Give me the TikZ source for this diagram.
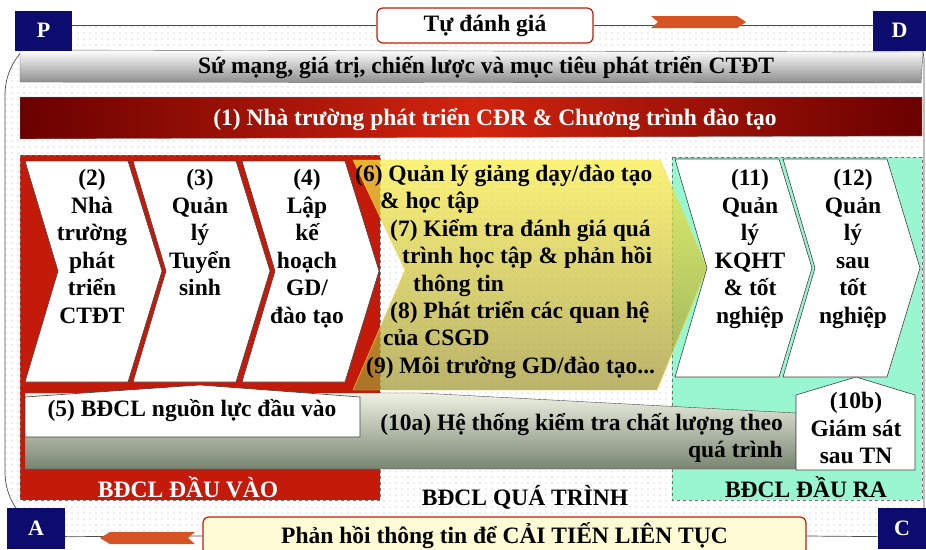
\documentclass[tikz,border=0pt]{standalone}
\usepackage{fontspec}
\setmainfont{Liberation Serif}
\usetikzlibrary{patterns.meta}

\definecolor{navyP}{RGB}{12,12,110}
\definecolor{areaRed}{RGB}{196,26,10}
\definecolor{darkRed}{RGB}{105,0,0}
\definecolor{bannerRed}{RGB}{210,36,14}
\definecolor{mint}{RGB}{152,246,208}
\definecolor{arrOrange}{RGB}{214,84,36}
\definecolor{paleYellow}{RGB}{255,251,212}
\definecolor{barDark}{RGB}{120,132,112}
\definecolor{barLight}{RGB}{238,242,228}
\definecolor{yelTop}{RGB}{250,238,70}
\definecolor{yelBot}{RGB}{160,150,50}

\begin{document}
\begin{tikzpicture}[x=1pt,y=-1pt,
	cornerbox/.style={fill=navyP, text=white, font=\fontsize{22}{24}\selectfont\bfseries, inner sep=0pt},
	txt/.style={font=\fontsize{23.5}{27.5}\selectfont\bfseries, align=center, inner sep=0pt},
	frame/.style={draw=black!70, line width=0.7pt},
	chevbox/.style={fill=white, draw=black!75, line width=0.6pt},
	areabox/.style={dashed, draw=black!55, line width=0.6pt}]
	\useasboundingbox (0,0) rectangle (926,549);
	% dotted ground inside the PDCA frame
	\fill[pattern={Dots[distance=6pt,radius=0.6pt]}, pattern color=black!30, rounded corners=65pt] (5,25) rectangle (924,537);
	\coordinate (frameNW) at (5,30);
	\coordinate (frameSW) at (5,537);
	\coordinate (frameNE) at (924,30);
	\coordinate (frameSE) at (924,537);

	% corner boxes and top/bottom boxes
	\node[cornerbox, minimum width=57pt, minimum height=40pt] (P) at (43.5,30.5) {P};
	\node[cornerbox, minimum width=53pt, minimum height=40pt] (D) at (899.5,30.5) {D};
	\node[cornerbox, minimum width=58pt, minimum height=41pt] (A) at (36,528.5) {A};
	\node[cornerbox, minimum width=48pt, minimum height=41pt] (C) at (902,528.5) {C};
	\node[txt, draw=areaRed, fill=white, line width=1.2pt, rounded corners=6pt, minimum width=216pt, minimum height=35pt] (tudg) at (485,25.5) {Tự đánh giá};
	\node[txt, draw=areaRed, fill=paleYellow, line width=1.2pt, rounded corners=6pt, minimum width=603pt, minimum height=38pt] (phh) at (504.5,536) {Phản hồi thông tin để CẢI TIẾN LIÊN TỤC};

	% frame lines
	\draw[frame] (tudg.west) -- (tudg.west -| P.east);
	\draw[frame] (tudg.east) -- (tudg.east -| D.west);
	\draw[frame, rounded corners=65pt] (P.center) -- (frameNW) -- (frameSW) -- (phh.west);
	\draw[frame, rounded corners=30pt] (D.center) -- (frameNE) -- (frameSE) -- (phh.east);

	% areas
	\draw[areabox, fill=areaRed] (20,155) rectangle (380,500);
	\draw[areabox, fill=mint] (672,157) rectangle (922,500);

	% banners
	\shade[top color=white, bottom color=black!45, draw=black!60] (20,50) -- (923,52) -- (921,83) -- (20,82) -- cycle;
	\node[txt] (sumang) at (486,68) {Sứ mạng, giá trị, chiến lược và mục tiêu phát triển CTĐT};
	\shade[left color=darkRed, right color=darkRed, middle color=bannerRed, draw=black!40] (20,97) -- (922,97) -- (922,136) -- (20,139) -- cycle;
	\node[txt, text=white] (ctdt) at (495,120) {(1) Nhà trường phát triển CĐR \& Chương trình đào tạo};

	% input chevrons
	\foreach \x in {25,133,242}
		\draw[chevbox] (\x,161) -- (\x+103,161) -- (\x+137,271) -- (\x+103,382) -- (\x,382) -- (\x+33,271) -- cycle;
	\node[txt, anchor=north] (q2) at (92,169) {(2)\\Nhà\\trường\\phát\\triển\\CTĐT};
	\node[txt, anchor=north] (q3) at (200,169) {(3)\\Quản\\lý\\Tuyển\\sinh};
	\node[txt, anchor=north] (q4) at (307,169) {(4)\\Lập\\kế\\hoạch\\GD/\\đào tạo};

	% process arrow
	\shade[top color=yelTop, bottom color=yelBot, fill opacity=0.72, draw=yelTop!80!orange] (353,160) -- (660,160) -- (707,268) -- (657,390) -- (353,390) -- (405,270) -- cycle;
	\node[txt, anchor=base west] (q6) at (355,181) {(6) Quản lý giảng dạy/đào tạo};
	\node[txt, anchor=base west] (q6b) at (380,208) {\& học tập};
	\node[txt, anchor=base west] (q7) at (390,236) {(7) Kiểm tra đánh giá quá};
	\node[txt, anchor=base west] (q7b) at (402,263) {trình học tập \& phản hồi};
	\node[txt, anchor=base west] (q7c) at (413,291) {thông tin};
	\node[txt, anchor=base west] (q8) at (390,318) {(8) Phát triển các quan hệ};
	\node[txt, anchor=base west] (q8b) at (383,345) {của CSGD};
	\node[txt, anchor=base west] (q9) at (366,373) {(9) Môi trường GD/đào tạo...};

	% output chevrons
	\foreach \x in {675,783}
		\draw[chevbox] (\x,159) -- (\x+104,159) -- (\x+137,268) -- (\x+104,377) -- (\x,377) -- (\x+32,268) -- cycle;
	\node[txt, anchor=north] (q11) at (750,169) {(11)\\Quản\\lý\\KQHT\\\& tốt\\nghiệp};
	\node[txt, anchor=north] (q12) at (853,169) {(12)\\Quản\\lý\\sau\\tốt\\nghiệp};

	% quality control bars
	\shade[top color=barLight, bottom color=barDark, draw=black!70] (25,393) -- (420,393) -- (796,413) -- (796,469) -- (25,469) -- cycle;
	\node[txt, align=right, anchor=east] (q10a) at (783,438) {(10a) Hệ thống kiểm tra chất lượng theo\\quá trình};
	\draw[chevbox] (25,397) -- (200,385) -- (360,397) -- (360,437) -- (25,437) -- cycle;
	\node[txt] (q5) at (192,411) {(5) BĐCL nguồn lực đầu vào};
	\draw[chevbox] (796,395) -- (856,377) -- (915,395) -- (915,470) -- (796,470) -- cycle;
	\node[txt] (q10b) at (856,428) {(10b)\\Giám sát\\sau TN};

	% area labels
	\node[txt, text=white] (dauvao) at (188,487) {BĐCL ĐẦU VÀO};
	\node[txt] (quatrinh) at (525,497) {BĐCL QUÁ TRÌNH};
	\node[txt] (daura) at (806,487) {BĐCL ĐẦU RA};

	% cycle arrows
	\fill[arrOrange] (651,16) -- (737,16) -- (746,22) -- (737,28) -- (651,28) -- (658,22) -- cycle;
	\fill[arrOrange] (100,538) -- (110,532) -- (195,532) -- (188,538) -- (195,544) -- (110,544) -- cycle;

	% boxes again on top of the frame lines
	\node[cornerbox, minimum width=57pt, minimum height=40pt] at (P) {P};
	\node[cornerbox, minimum width=53pt, minimum height=40pt] at (D) {D};
	\node[cornerbox, minimum width=58pt, minimum height=41pt] at (A) {A};
	\node[cornerbox, minimum width=48pt, minimum height=41pt] at (C) {C};
\end{tikzpicture}
\end{document}
